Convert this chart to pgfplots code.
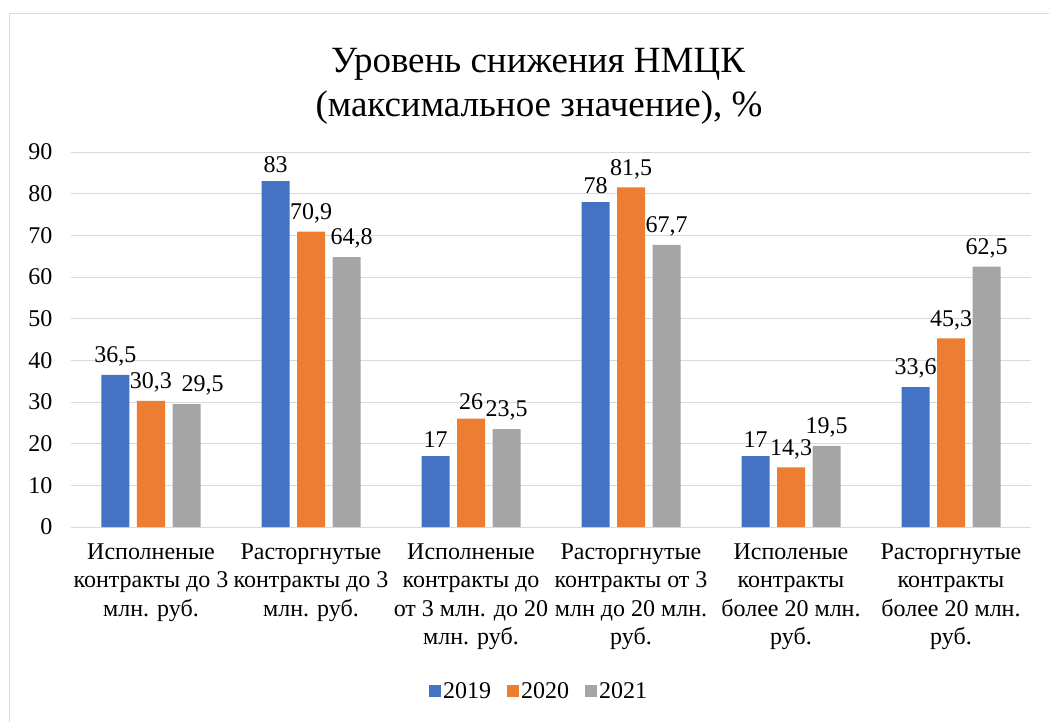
\documentclass[border=0pt]{standalone}
\usepackage{fontspec}
\setmainfont{Liberation Serif}
\usepackage{pgfplots}
\pgfplotsset{compat=1.18}
\definecolor{cA}{HTML}{4472C4}
\definecolor{cB}{HTML}{ED7D31}
\definecolor{cC}{HTML}{A5A5A5}
\definecolor{gridc}{HTML}{D9D9D9}
\begin{document}
\begin{tikzpicture}[x=1pt,y=1pt]
\useasboundingbox (-71,-195) rectangle (978,527);
\draw[gridc, line width=1.2pt] (-61.5,-200) -- (-61.5,513.5) -- (990,513.5);
\node[font=\fontsize{37}{44}\selectfont, anchor=base] at (467,454) {Уровень снижения НМЦК};
\node[font=\fontsize{37}{44}\selectfont, anchor=base] at (468,410) {(максимальное значение), \%};
\begin{axis}[
  at={(0,0)}, anchor=south west,
  scale only axis, width=960pt, height=375pt,
  xmin=-0.5, xmax=5.5, ymin=0, ymax=90,
  ybar=7.5pt, bar width=28pt,
  ytick={0,10,...,90},
  xtick=data,
  xticklabels={{Исполненые\\контракты до 3\\млн. руб.},{Расторгнутые\\контракты до 3\\млн. руб.},{Исполненые\\контракты до\\от 3 млн. до 20\\млн. руб.},{Расторгнутые\\контракты от 3\\млн до 20 млн.\\руб.},{Исполеные\\контракты\\более 20 млн.\\руб.},{Расторгнутые\\контракты\\более 20 млн.\\руб.}},
  xticklabel style={align=center, font=\fontsize{24}{28.5}\selectfont, yshift=-13pt},
  yticklabel style={font=\fontsize{24}{28}\selectfont, xshift=-15pt},
  /pgf/number format/assume math mode=true,
  /pgf/number format/use comma,
  major tick length=0pt,
  axis line style={draw=none},
  ymajorgrids, grid style={gridc, line width=1pt},
  nodes near coords,
  nodes near coords style={font=\fontsize{24}{28}\selectfont, yshift=5pt},
  legend style={at={(0.4875,-0.437)}, anchor=center, draw=none, legend columns=-1, font=\fontsize{24}{28}\selectfont,
    /tikz/every even column/.append style={column sep=14pt}},
  legend image code/.code={\fill[#1] (0pt,-6pt) rectangle (12pt,6pt);},
]
\addplot[fill=cA, draw=none] coordinates {(0,36.5) (1,83) (2,17) (3,78) (4,17) (5,33.6)};
\addplot[fill=cB, draw=none] coordinates {(0,30.3) (1,70.9) (2,26) (3,81.5) (4,14.3) (5,45.3)};
\addplot[fill=cC, draw=none, visualization depends on={x \as \myx},
  nodes near coords style={/tikz/xshift={16*(\myx<0.5)+5*(\myx>0.5)*(\myx<1.5)}}] coordinates {(0,29.5) (1,64.8) (2,23.5) (3,67.7) (4,19.5) (5,62.5)};
\legend{2019,2020,2021}
\end{axis}
\end{tikzpicture}
\end{document}
